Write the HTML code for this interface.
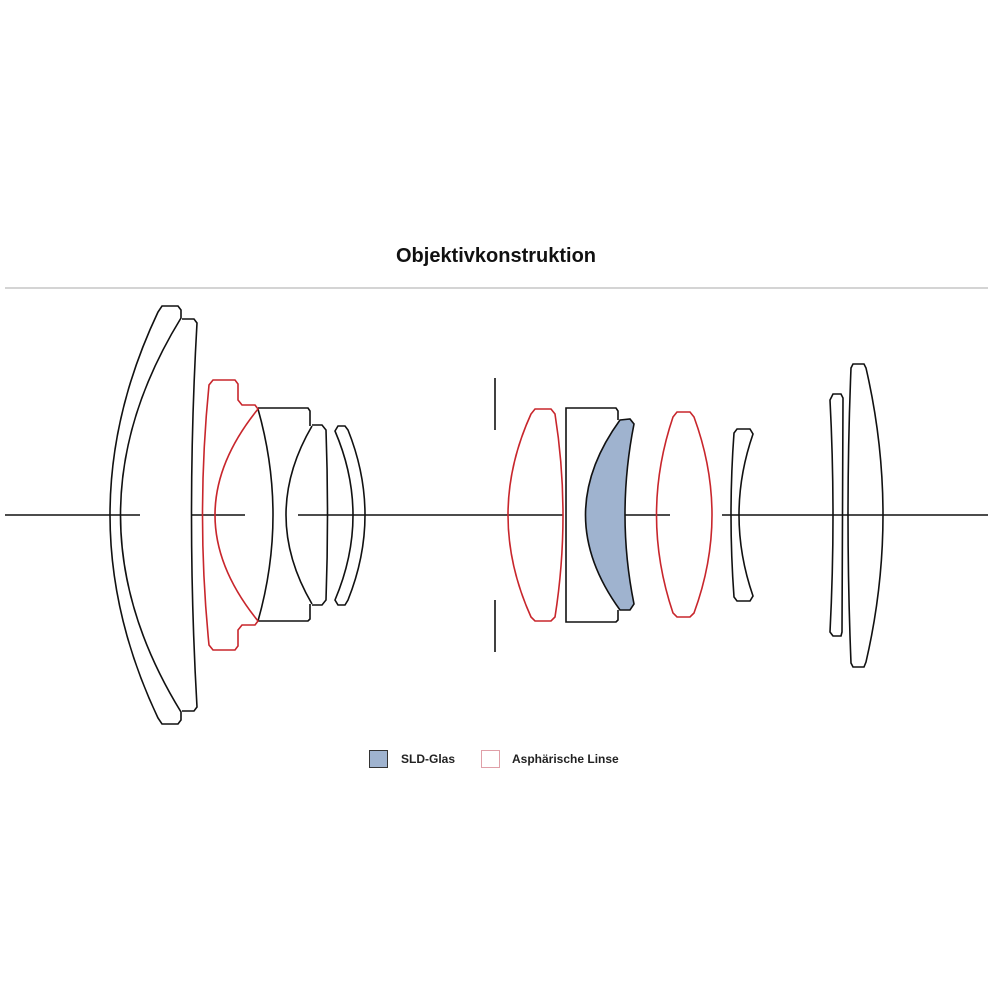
<!DOCTYPE html>
<html><head><style>
html,body{margin:0;padding:0;background:#fff;}
svg{display:block}
</style></head><body>
<svg width="1000" height="1000" viewBox="0 0 1000 1000" xmlns="http://www.w3.org/2000/svg">
<text x="496" y="262" text-anchor="middle" font-family="Liberation Sans, sans-serif" font-weight="bold" font-size="20" fill="#111">Objektivkonstruktion</text>
<line x1="5" y1="288" x2="988" y2="288" stroke="#aaa" stroke-width="1"/>
<g stroke="#111" stroke-width="1.6" fill="none">
<line x1="5" y1="515" x2="140" y2="515"/>
<line x1="192" y1="515" x2="245" y2="515"/>
<line x1="298" y1="515" x2="563" y2="515"/>
<line x1="616" y1="515" x2="670" y2="515"/>
<line x1="722" y1="515" x2="988" y2="515"/>
<line x1="495" y1="378" x2="495" y2="430"/>
<line x1="495" y1="600" x2="495" y2="652"/>
<!-- lens 1 -->
<path d="M162,306 L178,306 L181,310 L181,318 Q60,515 181,712 L181,720 L178,724 L162,724 L158,718 Q62,515 158,312 Z"/>
<!-- lens 2 -->
<path d="M182,319 L194,319 L197,323 Q186,515 197,707 L194,711 L182,711"/>
<!-- lens 4 -->
<path d="M258,408 L308,408 L310,411 L310,426 M310,604 L310,619 L308,621 L258,621 Q288,515 258,409"/>
<path d="M312,426 Q260,515 312,604"/>
<!-- lens 5 -->
<path d="M312,425 L322,425 L326,430 Q329,515 326,600 L322,605 L312,605"/>
<!-- lens 6 -->
<path d="M338,426 L345,426 L348,430 Q382,515 348,600 L345,605 L338,605 L335,600 Q371,515 335,431 Z"/>
<!-- lens 8 -->
<path d="M618,420 L618,411 L616,408 L566,408 L566,622 L616,622 L618,620 L618,610"/>
<!-- lens 11 -->
<path d="M737,429 L750,429 L753,434 Q725,515 753,596 L750,601 L737,601 L734,597 Q728,515 734,433 Z"/>
<!-- lens 12 -->
<path d="M833,394 L841,394 L843,398 L842,632 L841,636 L833,636 L830,632 Q836,515 830,400 Z"/>
<!-- lens 13 -->
<path d="M853,364 L864,364 L866,368 Q900,515 866,662 L864,667 L853,667 L851,663 Q845,515 851,368 Z"/>
</g>
<!-- lens 9 blue -->
<path d="M620,420 L630,419 L634,424 Q616,515 634,604 L630,610 L620,610 Q551,515 620,420 Z" fill="#9fb3cf" stroke="#111" stroke-width="1.6"/>
<g stroke="#c8262c" stroke-width="1.6" fill="none">
<!-- lens 3 -->
<path d="M213,380 L235,380 L238,384 L238,400 L242,405 L255,405 L258,409 Q172,515 258,621 L255,625 L242,625 L238,630 L238,646 L235,650 L213,650 L209,645 Q196,515 209,385 Z"/>
<!-- lens 7 -->
<path d="M535,409 L551,409 L555,414 Q571,515 555,617 L551,621 L535,621 L531,617 Q485,515 531,414 Z"/>
<!-- lens 10 -->
<path d="M677,412 L690,412 L694,417 Q730,515 694,613 L690,617 L677,617 L673,613 Q640,515 673,417 Z"/>
</g>
<rect x="369.5" y="750.5" width="18" height="17" fill="#9fb3cf" stroke="#333" stroke-width="1"/>
<text x="401" y="763" font-family="Liberation Sans, sans-serif" font-weight="bold" font-size="12" fill="#222">SLD-Glas</text>
<rect x="481.5" y="750.5" width="18" height="17" fill="#fff" stroke="#e0a0a8" stroke-width="1"/>
<text x="512" y="763" font-family="Liberation Sans, sans-serif" font-weight="bold" font-size="12" fill="#222">Asphärische Linse</text>
</svg>
</body></html>
